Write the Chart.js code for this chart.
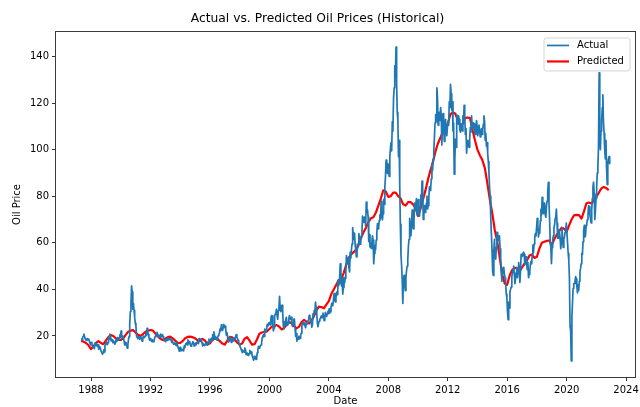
<!DOCTYPE html>
<html><head><meta charset="utf-8">
<script src="https://cdn.jsdelivr.net/npm/chart.js@4.4.1/dist/chart.umd.min.js"></script>
<style>html,body{margin:0;padding:0;background:#fff;}canvas{display:block;}</style>
</head><body>
<canvas id="c" width="640" height="407"></canvas>
<script>
const chartTitle = 'Actual vs. Predicted Oil Prices (Historical)';
const xAxisLabel = 'Date';
const yAxisLabel = 'Oil Price';
const seriesLabels = ['Actual', 'Predicted'];
const xTickYears = [1988, 1992, 1996, 2000, 2004, 2008, 2012, 2016, 2020, 2024];
const yTickValues = [20, 40, 60, 80, 100, 120, 140];

// Actual: two values per month (first half, second half), starting May 1987
const actualStartYear = 1987, actualStartMonth = 5;
const actualPrice = [
  19.0, 18.3, 19.4, 20.0, 20.8, 19.9, 18.9, 18.3, 18.6, 18.1, 18.9, 18.4, 18.7, 17.6, 16.8, 16.2,
  17.3, 16.5, 15.4, 15.0, 15.4, 14.6, 16.9, 16.3, 15.9, 16.6, 15.5, 16.2,
  14.3, 15.0, 15.3, 14.4, 13.3, 12.9, 12.2, 12.8, 14.0, 13.2, 15.9, 16.4,
  17.4, 16.6, 16.3, 17.2, 19.6, 18.6, 20.8, 19.8, 17.9, 18.6, 18.2, 17.1,
  17.8, 17.3, 16.5, 17.2, 18.4, 17.6, 19.3, 18.6, 18.2, 19.2, 20.4, 19.5,
  22.1, 20.6, 19.2, 20.0, 18.9, 17.6, 16.1, 17.0, 17.2, 16.1, 14.8, 16.2,
  18.5, 19.8, 25.0, 30.5, 33.5, 41.5, 39.0, 31.5, 34.0, 31.0, 28.0, 25.5,
  24.5, 20.0, 19.5, 18.9, 19.6, 18.9, 18.6, 19.4, 19.6, 18.8, 17.8, 18.6,
  19.9, 19.3, 19.4, 20.0, 21.0, 20.3, 23.3, 22.0, 20.6, 19.6, 18.2, 18.9,
  18.8, 17.9, 17.6, 18.3, 18.0, 17.5, 18.8, 19.7, 20.2, 20.9, 21.6, 20.8,
  19.8, 20.4, 20.1, 19.5, 20.8, 20.2, 19.8, 20.6, 19.6, 18.8, 17.9, 18.4,
  17.6, 18.3, 18.6, 18.1, 19.1, 18.5, 18.4, 19.0, 18.8, 18.1, 17.3, 17.9,
  17.0, 16.5, 16.5, 17.1, 16.4, 15.9, 17.1, 16.3, 15.1, 14.5, 13.5, 14.1,
  15.2, 14.4, 13.7, 14.2, 14.1, 13.6, 15.8, 15.0, 16.2, 16.8, 17.1, 16.2,
  18.3, 17.5, 16.8, 17.6, 16.1, 15.6, 16.2, 16.9, 17.6, 17.0, 15.7, 16.3,
  16.9, 16.2, 16.8, 17.5, 17.3, 16.7, 18.9, 18.2, 18.0, 18.7, 17.6, 16.9,
  15.7, 16.3, 16.4, 15.9, 16.3, 16.9, 16.6, 16.1, 17.4, 16.8, 18.7, 17.9,
  17.7, 18.5, 19.1, 18.2, 20.6, 19.5, 21.8, 20.4, 18.6, 19.6, 19.0, 18.2,
  19.3, 20.2, 20.6, 21.6, 23.1, 22.2, 24.8, 23.4, 22.4, 23.6, 25.0, 23.8,
  24.2, 23.0, 20.4, 21.5, 19.5, 18.6, 17.4, 18.5, 19.4, 18.4, 17.3, 18.4,
  18.8, 17.9, 18.4, 19.1, 18.8, 19.8, 20.6, 19.5, 19.0, 18.1, 17.3, 16.6,
  15.6, 14.9, 14.2, 13.5, 12.9, 13.8, 13.8, 13.1, 14.8, 14.0, 12.0, 12.8,
  12.4, 11.8, 11.7, 12.4, 13.8, 12.9, 12.5, 13.2, 11.3, 10.6, 9.6, 10.4,
  11.4, 10.6, 10.0, 10.9, 12.9, 14.1, 15.6, 14.8, 15.0, 15.8, 16.2, 17.3,
  19.4, 20.0, 20.6, 19.8, 23.0, 22.2, 21.6, 22.8, 25.0, 24.2, 24.8, 25.8,
  25.9, 24.8, 27.6, 28.8, 28.6, 25.2, 22.2, 23.5, 28.4, 29.5, 29.8, 31.5,
  28.8, 27.2, 31.0, 32.5, 37.0, 31.5, 30.5, 32.8, 33.2, 30.5, 24.5, 23.0,
  26.2, 24.8, 27.2, 28.0, 24.6, 25.9, 25.4, 27.5, 28.8, 27.5, 27.2, 28.0,
  25.0, 24.1, 25.8, 27.2, 27.2, 23.0, 19.9, 21.0, 17.8, 19.3, 18.6, 19.9,
  19.8, 19.0, 20.2, 21.2, 24.2, 25.4, 25.8, 24.9, 25.6, 24.4, 23.6, 25.2,
  26.0, 25.2, 26.6, 27.6, 28.9, 28.0, 27.2, 25.8, 23.8, 24.8, 29.5, 28.2,
  31.0, 30.2, 34.5, 32.2, 29.8, 25.6, 24.0, 25.5, 26.4, 27.3, 27.4, 28.5,
  28.6, 27.9, 29.8, 28.7, 26.6, 27.8, 30.2, 29.0, 28.4, 29.5, 30.6, 29.6,
  31.6, 29.8, 30.4, 32.1, 34.0, 33.0, 33.2, 35.6, 38.2, 36.4, 34.6, 36.2,
  38.8, 37.8, 43.8, 41.5, 42.4, 45.6, 51.0, 47.2, 41.5, 44.8, 38.0, 40.8,
  45.2, 42.8, 44.8, 47.6, 54.5, 52.0, 51.0, 53.5, 49.2, 47.5, 56.0, 53.4,
  57.0, 59.5, 66.5, 63.5, 61.5, 64.2, 59.4, 56.8, 54.0, 56.2, 58.0, 59.8,
  64.0, 61.8, 59.4, 61.6, 63.0, 64.8, 71.5, 69.6, 68.8, 71.0, 69.8, 67.4,
  77.5, 74.5, 74.0, 71.0, 60.6, 63.5, 58.2, 59.8, 57.6, 60.2, 63.0, 61.2,
  51.0, 55.4, 58.8, 57.0, 61.2, 64.2, 68.2, 66.0, 66.8, 69.6, 72.0, 70.5,
  77.8, 75.0, 69.8, 72.5, 78.6, 76.5, 84.0, 88.5, 95.5, 91.0, 89.8, 94.0,
  92.0, 88.5, 97.0, 100.5, 103.0, 99.5, 112.0, 108.0, 122.0, 126.5, 136.0, 131.0,
  144.0, 128.0, 116.0, 112.5, 97.0, 104.0, 85.0, 68.0, 55.0, 50.5, 44.0, 34.0,
  44.5, 46.0, 42.0, 39.5, 45.0, 48.0, 50.0, 52.5, 58.5, 61.5, 70.5, 68.0,
  63.0, 66.5, 74.0, 71.0, 66.0, 69.5, 77.0, 74.5, 76.5, 79.0, 72.0, 75.5,
  78.5, 72.5, 71.5, 75.5, 80.5, 78.0, 86.5, 84.0, 70.0, 73.5, 76.0, 73.0,
  73.5, 77.0, 80.0, 74.5, 76.0, 79.5, 84.0, 82.5, 83.5, 87.5, 94.0, 91.0,
  96.0, 99.5, 105.0, 111.5, 115.0, 112.0, 126.5, 122.0, 110.5, 115.5, 116.0, 112.5,
  118.0, 115.0, 102.0, 110.0, 115.5, 109.5, 103.5, 110.0, 113.0, 108.5, 106.0, 109.5,
  112.0, 110.5, 120.5, 118.0, 128.0, 124.0, 117.0, 120.5, 108.0, 111.5, 89.5, 96.0,
  104.5, 101.0, 115.0, 112.5, 111.0, 114.5, 113.0, 108.5, 107.5, 111.0, 110.5, 108.0,
  114.5, 111.5, 119.0, 114.0, 106.5, 109.0, 98.5, 102.5, 104.0, 101.5, 101.0, 105.0,
  109.5, 107.5, 114.5, 110.0, 109.0, 111.5, 111.0, 107.0, 106.5, 109.5, 112.5, 110.0,
  106.0, 108.5, 110.5, 108.0, 105.5, 108.0, 109.0, 106.5, 108.5, 111.0, 114.5, 112.0,
  104.0, 107.0, 101.5, 103.0, 98.5, 95.0, 90.5, 84.0, 80.0, 71.0, 64.0, 57.0,
  48.0, 46.0, 57.0, 61.5, 55.0, 53.0, 58.0, 64.5, 64.5, 61.5, 61.0, 63.0,
  57.5, 53.0, 47.0, 43.5, 49.0, 47.0, 49.5, 46.5, 45.0, 43.0, 38.0, 36.5,
  30.5, 27.0, 34.5, 32.0, 39.0, 40.0, 41.0, 45.5, 47.0, 48.5, 50.0, 47.0,
  42.5, 44.5, 47.0, 49.5, 45.0, 47.5, 51.5, 49.0, 43.0, 47.5, 55.0, 54.0,
  54.5, 55.5, 56.0, 55.0, 50.5, 52.0, 54.0, 51.0, 48.5, 51.5, 45.0, 46.5,
  48.0, 50.5, 52.0, 51.0, 55.0, 59.0, 56.0, 59.5, 62.0, 64.0, 63.0, 66.5,
  70.5, 68.0, 62.5, 65.5, 64.0, 69.5, 74.5, 72.0, 79.5, 76.0, 72.5, 77.0,
  76.5, 72.0, 71.0, 76.0, 78.0, 82.0, 86.0, 77.0, 70.0, 60.0, 58.0, 51.0,
  58.0, 61.5, 63.0, 66.5, 67.5, 70.5, 71.5, 74.5, 68.5, 62.0, 62.0, 65.5,
  64.5, 62.0, 57.5, 60.0, 66.5, 62.0, 58.0, 61.5, 62.5, 64.5, 65.5, 68.5,
  68.5, 60.0, 55.5, 52.5, 45.0, 24.5, 22.0, 9.3, 28.5, 34.5, 40.5, 42.5,
  42.5, 43.5, 45.5, 44.5, 41.5, 38.5, 42.0, 39.5, 43.5, 47.5, 49.0, 51.0,
  55.5, 55.0, 60.5, 65.0, 67.5, 62.5, 63.0, 67.5, 68.0, 70.0, 72.0, 76.0,
  75.5, 72.0, 70.5, 68.5, 74.0, 79.0, 84.0, 86.0, 81.0, 70.0, 74.0, 79.0,
  84.0, 90.0, 93.0, 101.5, 133.0, 104.0, 100.0, 108.0, 112.0, 118.0, 123.5, 112.0,
  107.0, 100.0, 96.0, 104.0, 92.0, 85.0, 93.5, 96.0, 97.0, 94.0
];

// Predicted: one value every two months, starting May 1987
const predictedStartYear = 1987, predictedStartMonth = 5;
const predictedPrice = [
  17.9, 17.6, 17.0, 16.0,
  14.4, 15.5, 17.0, 17.8, 17.0, 16.5,
  18.0, 19.5, 20.4, 20.0, 19.0, 18.3,
  18.3, 19.0, 20.5, 21.8, 22.3, 22.5,
  21.5, 20.5, 20.0, 20.8, 21.8, 22.3,
  22.6, 22.3, 21.0, 19.8, 18.8, 18.3,
  18.8, 19.5, 19.7, 19.0, 18.0, 17.0,
  17.0, 17.8, 19.0, 19.6, 19.7, 19.5,
  19.0, 18.2, 17.8, 18.8, 18.0, 16.5,
  16.8, 18.2, 19.2, 18.8, 17.8, 16.8,
  16.3, 18.0, 19.6, 19.4, 18.5, 17.2,
  16.3, 16.8, 18.8, 19.5, 18.0, 16.3,
  16.5, 18.5, 21.0, 21.5, 21.8, 22.0,
  23.0, 24.0, 24.3, 24.7, 24.0, 22.8,
  23.5, 25.0, 26.0, 25.5, 24.2, 23.3,
  24.0, 26.0, 26.9, 26.2, 25.4, 26.5,
  28.5, 31.0, 32.6, 32.4, 31.9, 33.5,
  35.0, 38.0, 40.0, 42.0, 44.0, 44.5,
  47.0, 50.5, 53.5, 55.0, 56.0, 57.0,
  59.0, 62.0, 64.5, 66.5, 69.0, 70.5,
  71.0, 73.0, 76.0, 79.0, 82.5, 82.0,
  79.7, 80.0, 81.5, 81.5, 80.0, 79.0,
  76.5, 76.0, 77.5, 77.5, 76.5, 75.0,
  71.5, 74.5, 78.5, 82.5, 87.0, 91.0,
  94.5, 99.0, 102.5, 105.0, 107.5, 108.0,
  111.0, 115.0, 116.0, 115.5, 113.0, 110.5,
  111.0, 113.5, 113.8, 113.5, 108.5, 104.0,
  100.0, 97.5, 95.5, 92.0, 85.5, 78.5,
  72.5, 65.5, 60.5, 53.5, 46.5, 42.5,
  42.0, 46.0, 48.3, 49.3, 49.0, 47.6,
  49.5, 51.1, 52.5, 54.5, 55.0, 53.5,
  54.0, 57.5, 60.0, 60.5, 60.8, 61.0,
  59.0, 61.5, 63.5, 65.0, 66.5, 66.0,
  64.7, 67.5, 70.0, 71.8, 72.0, 71.9,
  70.4, 73.5, 77.0, 77.3, 76.9, 78.0,
  79.7, 81.5, 83.3, 84.0, 83.5, 82.6
];

const actualPoints = actualPrice.map((v, i) => ({
  x: actualStartYear + (actualStartMonth - 1) / 12 + (i + 0.5) / 24, y: v }));
const predictedPoints = predictedPrice.map((v, i) => ({
  x: predictedStartYear + (predictedStartMonth - 1 + 2 * i) / 12, y: v }));

const FONT = "'DejaVu Sans', sans-serif";
Chart.defaults.font.family = FONT;
Chart.defaults.color = '#000';

const bgPlugin = { id: 'bg', beforeDraw(c) {
  const x = c.ctx; x.save(); x.fillStyle = '#fff'; x.fillRect(0, 0, c.width, c.height); x.restore(); } };

const framePlugin = { id: 'frame', afterDatasetsDraw(c) {
  const a = c.chartArea, x = c.ctx;
  x.save(); x.strokeStyle = '#3a3a3a'; x.lineWidth = 1;
  x.strokeRect(Math.round(a.left) - 0.5, Math.round(a.top) - 0.5,
               Math.round(a.right - a.left) + 1, Math.round(a.bottom - a.top) + 1);
  x.restore(); } };

const legendPlugin = { id: 'mplLegend', afterDraw(c) {
  const x = c.ctx, a = c.chartArea;
  const w = 86, h = 33, bx = a.right - 5 - w, by = a.top + 6, r = 2.5;
  x.save();
  x.beginPath();
  x.moveTo(bx + r, by); x.lineTo(bx + w - r, by); x.quadraticCurveTo(bx + w, by, bx + w, by + r);
  x.lineTo(bx + w, by + h - r); x.quadraticCurveTo(bx + w, by + h, bx + w - r, by + h);
  x.lineTo(bx + r, by + h); x.quadraticCurveTo(bx, by + h, bx, by + h - r);
  x.lineTo(bx, by + r); x.quadraticCurveTo(bx, by, bx + r, by); x.closePath();
  x.fillStyle = 'rgba(255,255,255,0.8)'; x.fill();
  x.strokeStyle = '#d4d4d4'; x.lineWidth = 1; x.stroke();
  c.data.datasets.forEach((ds, i) => {
    const ly = by + 7.5 + i * 16;
    x.beginPath(); x.moveTo(bx + 3, ly); x.lineTo(bx + 25, ly);
    x.strokeStyle = ds.borderColor; x.lineWidth = ds.borderWidth; x.stroke();
    x.fillStyle = '#000'; x.font = '10px ' + FONT; x.textBaseline = 'middle'; x.textAlign = 'left';
    x.fillText(ds.label, bx + 33, ly);
  });
  x.restore(); } };

const tickGrid = { display: true, drawOnChartArea: false, drawTicks: true, tickLength: 4, tickColor: '#333', tickWidth: 1 };

new Chart(document.getElementById('c'), {
  type: 'line',
  data: { datasets: [
    { label: seriesLabels[0], data: actualPoints, borderColor: '#1f77b4', borderWidth: 1.7,
      pointRadius: 0, tension: 0, borderJoinStyle: 'round', fill: false },
    { label: seriesLabels[1], data: predictedPoints, borderColor: '#ff0000', borderWidth: 2.2,
      pointRadius: 0, tension: 0, borderJoinStyle: 'round', fill: false }
  ]},
  options: {
    responsive: false, animation: false, devicePixelRatio: 1,
    layout: { padding: { left: 0, right: 5, top: 0, bottom: 0 } },
    plugins: {
      legend: { display: false }, tooltip: { enabled: false },
      title: { display: true, text: chartTitle, color: '#000',
        font: { family: FONT, size: 12.3, weight: 'normal', lineHeight: 1.2 },
        padding: { top: 11.6, bottom: 5.6 } }
    },
    scales: {
      x: { type: 'linear', min: 1985.645, max: 2024.6,
        afterBuildTicks(s) { s.ticks = xTickYears.map(v => ({ value: v })); },
        afterFit(s) { s.height = 30; s.paddingLeft = 0; s.paddingRight = 0; },
        ticks: { callback: v => String(v), font: { size: 10 }, color: '#000', padding: 3, maxRotation: 0, autoSkip: false },
        grid: tickGrid, border: { display: false },
        title: { display: true, text: xAxisLabel, color: '#000', font: { size: 10 }, padding: { top: 0, bottom: 0 } } },
      y: { type: 'linear', min: 2.4, max: 150.5,
        afterBuildTicks(s) { s.ticks = yTickValues.map(v => ({ value: v })); },
        afterFit(s) { s.width = 56; s.paddingTop = 0; s.paddingBottom = 0; },
        ticks: { callback: v => String(v), font: { size: 10 }, color: '#000', padding: 3 },
        grid: tickGrid, border: { display: false },
        title: { display: true, text: yAxisLabel, color: '#000', font: { size: 10 }, padding: { top: 11, bottom: 0 } } }
    }
  },
  plugins: [bgPlugin, framePlugin, legendPlugin]
});
</script>
</body></html>
